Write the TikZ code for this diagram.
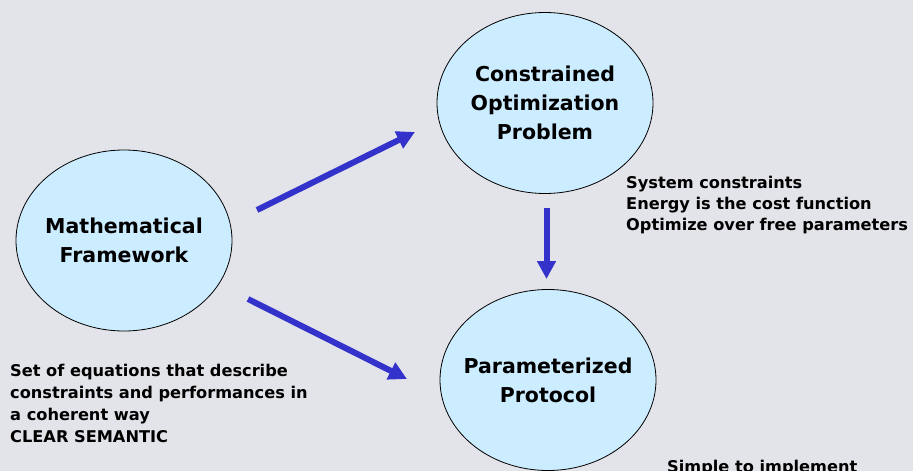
\documentclass[tikz,border=0pt]{standalone}
\usepackage{fontspec}
\setmainfont{DejaVu Sans}
\usetikzlibrary{shapes.geometric,arrows.meta}
\definecolor{bgcol}{HTML}{E3E4EA}
\definecolor{bubble}{HTML}{CCECFF}
\definecolor{flow}{HTML}{3333CC}
\tikzset{
  bubblenode/.style={ellipse, draw=black, line width=0.8pt, fill=bubble,
    minimum width=216pt, minimum height=181pt, inner sep=0pt},
  bubbletext/.style={align=center, inner sep=0pt,
    font=\bfseries\fontsize{20.5}{29}\selectfont},
  note/.style={anchor=north west, inner sep=0pt, align=left,
    font=\bfseries\fontsize{16.2}{21}\selectfont},
  flowarrow/.style={draw=flow, line width=6pt,
    -{Triangle[length=18pt,width=18pt]}}
}
\begin{document}
\begin{tikzpicture}[x=1pt,y=-1pt]
  % canvas
  \fill[bgcol] (0,0) rectangle (913,471);
  \clip (0,0) rectangle (913,471);
  \useasboundingbox (0,0) rectangle (913,471);

  % the three stages
  \node[bubblenode] (math) at (124,240.5) {};
  \node[bubblenode] (opt) at (545,103) {};
  \node[bubblenode] (proto) at (548,380) {};
  \node[bubbletext] (mathtext) at (math.center) {Mathematical\\Framework};
  \node[bubbletext] (opttext) at (opt.center) {Constrained\\Optimization\\Problem};
  \node[bubbletext] (prototext) at (proto.center) {Parameterized\\Protocol};

  % descriptions
  \node[note] (optnote) at (626,176) {System constraints\\Energy is the cost function\\Optimize over free parameters};
  \node[note, font=\bfseries\fontsize{16.2}{22}\selectfont] (mathnote) at (10,364) {Set of equations that describe\\constraints and performances in\\a coherent way\\CLEAR SEMANTIC};
  \node[note] (protonote) at (667,460) {Simple to implement};

  % arrow end points
  \coordinate (m2oA) at (257,210);
  \coordinate (m2oB) at (415,132);
  \coordinate (m2pA) at (248,299);
  \coordinate (m2pB) at (407,379);
  \coordinate (o2pA) at (546.5,208);
  \coordinate (o2pB) at (546.5,279);

  \draw[flowarrow] (m2oA) -- (m2oB);
  \draw[flowarrow] (m2pA) -- (m2pB);
  \draw[flowarrow] (o2pA) -- (o2pB);
\end{tikzpicture}
\end{document}
